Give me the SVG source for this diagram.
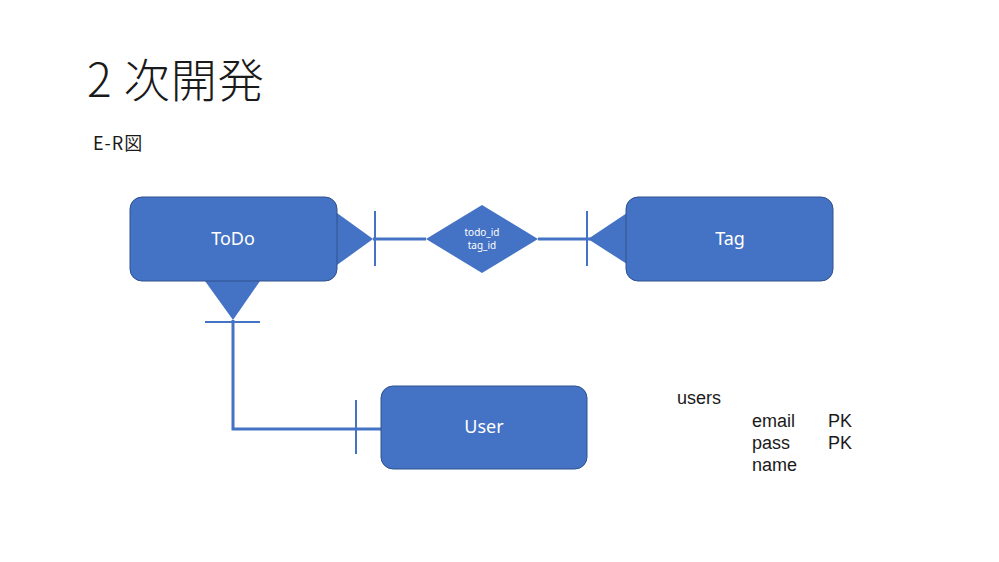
<svg xmlns="http://www.w3.org/2000/svg" width="999" height="562" viewBox="0 0 999 562">
<style>
.box{fill:#4472C4;stroke:#2F528F;stroke-width:1}
.lbl{fill:#fff;font-family:"Noto Sans","Liberation Sans",sans-serif;font-size:18px;text-anchor:middle}
.sm{fill:#fff;font-family:"Noto Sans","Liberation Sans",sans-serif;font-size:10px;text-anchor:middle}
.ln{stroke:#4472C4;stroke-width:3;fill:none}
.tk{stroke:#4472C4;stroke-width:2;fill:none}
.tri{fill:#4472C4;stroke:none}
.txt{fill:#1a1a1a;font-family:"Noto Sans CJK JP","Noto Sans","Liberation Sans",sans-serif}
.tb{fill:#1a1a1a;font-family:"Liberation Sans",Arial,sans-serif;font-size:18px}
</style>
<rect width="999" height="562" fill="#fff"/>
<text class="txt" x="87" y="97" font-size="46" font-weight="300" letter-spacing="1">2 次開発</text>
<text class="txt" x="93" y="150" font-size="18" letter-spacing="1">E-R図</text>
<g id="connectors">
<polygon class="tri" points="337,213 373,239 337,265"/>
<line class="ln" x1="373" y1="239" x2="426" y2="239"/>
<line class="tk" x1="375" y1="211" x2="375" y2="266"/>
<line class="ln" x1="538" y1="239" x2="627" y2="239"/>
<line class="tk" x1="587" y1="211" x2="587" y2="266"/>
<polygon class="tri" points="627,213 588,239 627,264"/>
<polygon class="tri" points="205,281 260,281 233,320"/>
<line class="tk" x1="205" y1="322" x2="260" y2="322"/>
<polyline class="ln" points="233,320 233,429 381,429"/>
<line class="tk" x1="356" y1="400" x2="356" y2="454"/>
</g>
<g id="todo">
<rect class="box" x="130" y="197" width="207" height="84" rx="12"/>
<text class="lbl" x="233" y="245">ToDo</text>
</g>
<g id="tag">
<rect class="box" x="626" y="197" width="207" height="84" rx="12"/>
<text class="lbl" x="730" y="245">Tag</text>
</g>
<g id="user">
<rect class="box" x="381" y="386" width="206" height="83" rx="12"/>
<text class="lbl" x="484" y="433">User</text>
</g>
<g id="relation">
<polygon class="tri" points="426,239 482,205 538,239 482,273"/>
<text class="sm" x="482" y="236">todo_id</text>
<text class="sm" x="482" y="249">tag_id</text>
</g>
<g id="users-table">
<text class="tb" x="677" y="404">users</text>
<text class="tb" x="752" y="427">email</text>
<text class="tb" x="828" y="427">PK</text>
<text class="tb" x="752" y="449">pass</text>
<text class="tb" x="828" y="449">PK</text>
<text class="tb" x="752" y="471">name</text>
</g>
</svg>
